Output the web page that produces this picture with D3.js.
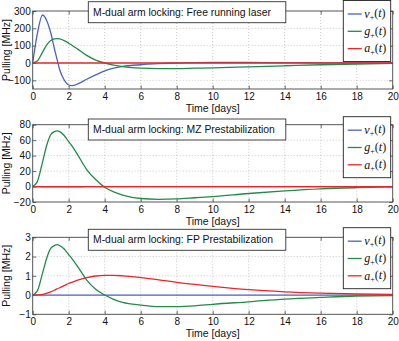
<!DOCTYPE html>
<html><head><meta charset="utf-8">
<script src="https://cdn.jsdelivr.net/npm/d3@7"></script>
<style>body{margin:0;background:#fff}svg{display:block}</style>
</head><body>
<script>
// ---- data ----
const timeDays = [0,0.25,0.55,0.8,1,1.2,1.35,1.5,1.75,2,2.2,2.5,3,3.5,4,4.5,5,6,7,8,9,10,12,14,16,18,20];
const xTicks = [0,2,4,6,8,10,12,14,16,18,20];
const panelTitles = ["M-dual arm locking: Free running laser","M-dual arm locking: MZ Prestabilization","M-dual arm locking: FP Prestabilization"];
const seriesNames = ["v","g","a"];
const yTicks1 = [-100,0,100,200,300];
const yTicks2 = [-20,0,20,40,60,80];
const yTicks3 = [-1,0,1,2,3];
const yDomain1 = [-150,300];
const yDomain2 = [-20,80];
const yDomain3 = [-1,3];
// panel 1: free running laser
const free_v = [0,165,277,240,176,85,22,-39,-98,-127,-131,-121,-94,-69,-46,-30,-20,-10,-4,0,2,3,3,2,1,0.5,0.3];
const free_g = [0,11,63,108,130,139,141,139,129,114,101,80,44,17,0,-12,-21,-30,-32,-32,-30,-28,-22,-16,-10,-6,-2];
const free_a = [0,0,0,0,0,0,0,0,0,0,0,0,0,0,0,0,0,0,0,0,0,0,0,0,0,0,0];
// panel 2: MZ prestabilization
const mz_v = [0,-0.2,-0.4,-0.5,-0.5,-0.5,-0.5,-0.5,-0.4,-0.4,-0.3,-0.3,-0.2,-0.2,-0.1,-0.1,0,0,0,0,0,0,0,0,0,0,0];
const mz_g = [0,6,32,55,67,71,72,71,66,58,52,41,22,9,-1,-7,-11,-15.5,-16.5,-16,-14.5,-13,-9,-5.6,-3,-1.5,-0.5];
const mz_a = [0,0,0,0,0,0,0,0,0,0,0,0,0,0,0,0,0,0,0,0,0,0,0,0,0,0,0];
// panel 3: FP prestabilization
const fp_v = [0,0,0,0,0,0,0,0,0,0,0,0,0,0,0,0,0,0,0,0,0,0,0,0,0,0,0];
const fp_g = [0,0.2,1.15,1.98,2.42,2.57,2.62,2.57,2.39,2.1,1.87,1.48,0.78,0.3,0,-0.22,-0.38,-0.52,-0.6,-0.6,-0.56,-0.48,-0.35,-0.21,-0.12,-0.05,-0.03];
const fp_a = [0,0.005,0.04,0.1,0.17,0.25,0.32,0.38,0.49,0.6,0.67,0.78,0.91,0.99,1.02,1.02,1.0,0.91,0.79,0.66,0.55,0.45,0.28,0.17,0.1,0.055,0.03];

// ---- layout / style ----
const W = 399, H = 341;
const colors = {v:"#4a64bd", g:"#238a48", a:"#e8262b"};
const font = "'Liberation Sans', Arial, Helvetica, sans-serif";
const panels = [
  {title:panelTitles[0], yDomain:yDomain1, yTicks:yTicks1, series:{v:free_v,g:free_g,a:free_a}, top:11, bottom:89, titleY:1.7, legY:0.5},
  {title:panelTitles[1], yDomain:yDomain2, yTicks:yTicks2, series:{v:mz_v,g:mz_g,a:mz_a}, top:124.7, bottom:202, titleY:119, legY:116.7},
  {title:panelTitles[2], yDomain:yDomain3, yTicks:yTicks3, series:{v:fp_v,g:fp_g,a:fp_a}, top:237.3, bottom:314.3, titleY:229.3, legY:227.7}
];
const left = 32.7, right = 392.7;

const svg = d3.select("body").append("svg").attr("width",W).attr("height",H);
svg.append("rect").attr("width",W).attr("height",H).attr("fill","#fff");

const x = d3.scaleLinear().domain([0,20]).range([left,right]);

panels.forEach(p => {
  const y = d3.scaleLinear().domain(p.yDomain).range([p.bottom,p.top]);
  const g = svg.append("g");
  // grid
  g.append("g").selectAll("line").data(xTicks.slice(1,-1)).join("line")
    .attr("x1",d=>x(d)).attr("x2",d=>x(d)).attr("y1",p.top).attr("y2",p.bottom)
    .attr("stroke","#bdbdbd").attr("stroke-width",0.8).attr("stroke-dasharray","1,2");
  g.append("g").selectAll("line").data(p.yTicks.filter(v=>v>p.yDomain[0]&&v<p.yDomain[1])).join("line")
    .attr("y1",d=>y(d)).attr("y2",d=>y(d)).attr("x1",left).attr("x2",right)
    .attr("stroke","#bdbdbd").attr("stroke-width",0.8).attr("stroke-dasharray","1,2");
  // axes (bottom & left) using d3 axes, ticks inward
  const xa = g.append("g").attr("transform",`translate(0,${p.bottom})`)
    .call(d3.axisBottom(x).tickValues(xTicks).tickSizeInner(-3.5).tickSizeOuter(0).tickPadding(3));
  const ya = g.append("g").attr("transform",`translate(${left},0)`)
    .call(d3.axisLeft(y).tickValues(p.yTicks).tickFormat(d=>d<0?"\u2212"+Math.abs(d):d).tickSizeInner(-3.5).tickSizeOuter(0).tickPadding(2));
  // top & right ticks
  const xt = g.append("g").attr("transform",`translate(0,${p.top})`)
    .call(d3.axisTop(x).tickValues(xTicks).tickSizeInner(-3.5).tickSizeOuter(0).tickFormat(""));
  const yr = g.append("g").attr("transform",`translate(${right},0)`)
    .call(d3.axisRight(y).tickValues(p.yTicks).tickSizeInner(-3.5).tickSizeOuter(0).tickFormat(""));
  [xa,ya,xt,yr].forEach(a=>{
    a.select(".domain").remove();
    a.selectAll("line").attr("stroke","#444").attr("stroke-width",0.8);
    a.selectAll("text").attr("font-family",font).attr("font-size",10).attr("fill","#111");
  });
  xa.selectAll("text").attr("dy","0.75em");
  // series
  const line = d3.line().x((d,i)=>x(timeDays[i])).y(d=>y(d)).curve(d3.curveMonotoneX);
  const clipId = "clip"+Math.round(p.top);
  svg.append("clipPath").attr("id",clipId).append("rect")
    .attr("x",left).attr("y",p.top-1).attr("width",right-left).attr("height",p.bottom-p.top+2);
  seriesNames.forEach(k=>{
    g.append("path").datum(p.series[k]).attr("d",line).attr("fill","none")
      .attr("stroke",colors[k]).attr("stroke-width",1.3).attr("clip-path",`url(#${clipId})`);
  });
  // box
  g.append("rect").attr("x",left).attr("y",p.top).attr("width",right-left).attr("height",p.bottom-p.top)
    .attr("fill","none").attr("stroke","#444").attr("stroke-width",0.9);
  // labels
  g.append("text").attr("x",(left+right)/2).attr("y",p.bottom+22.5).attr("text-anchor","middle")
    .attr("font-family",font).attr("font-size",10.5).attr("fill","#111").text("Time [days]");
  g.append("text").attr("transform",`translate(9.5,${(p.top+p.bottom)/2}) rotate(-90)`)
    .attr("text-anchor","middle").attr("font-family",font).attr("font-size",10.5).attr("fill","#111").text("Pulling [MHz]");
  // title box
  g.append("rect").attr("x",88.3).attr("y",p.titleY).attr("width",197.5).attr("height",21)
    .attr("fill","#fff").attr("stroke","#333").attr("stroke-width",0.9);
  g.append("text").attr("x",93).attr("y",p.titleY+10.5).attr("dy","0.35em")
    .attr("font-family",font).attr("font-size",10.4).attr("fill","#111").text(p.title);
  // legend
  const lg = g.append("g").attr("transform",`translate(343.3,${p.legY})`);
  lg.append("rect").attr("width",47.4).attr("height",61).attr("fill","#fff").attr("stroke","#222").attr("stroke-width",0.9);
  seriesNames.forEach((k,i)=>{
    const yy = 13.5 + i*17.3;
    lg.append("line").attr("x1",4.4).attr("x2",18.4).attr("y1",yy).attr("y2",yy)
      .attr("stroke",colors[k]).attr("stroke-width",1.3);
    const t = lg.append("text").attr("x",21).attr("y",yy).attr("dy","0.32em")
      .attr("font-family","'Liberation Serif','Times New Roman',serif").attr("font-size",12).attr("fill","#111");
    t.append("tspan").attr("font-style","italic").text(k);
    t.append("tspan").attr("font-size",8).attr("dy","0.3em").text("+");
    t.append("tspan").attr("dy","-0.25em").text("(");
    t.append("tspan").attr("font-style","italic").text("t");
    t.append("tspan").text(")");
  });
});
</script>
</body></html>
